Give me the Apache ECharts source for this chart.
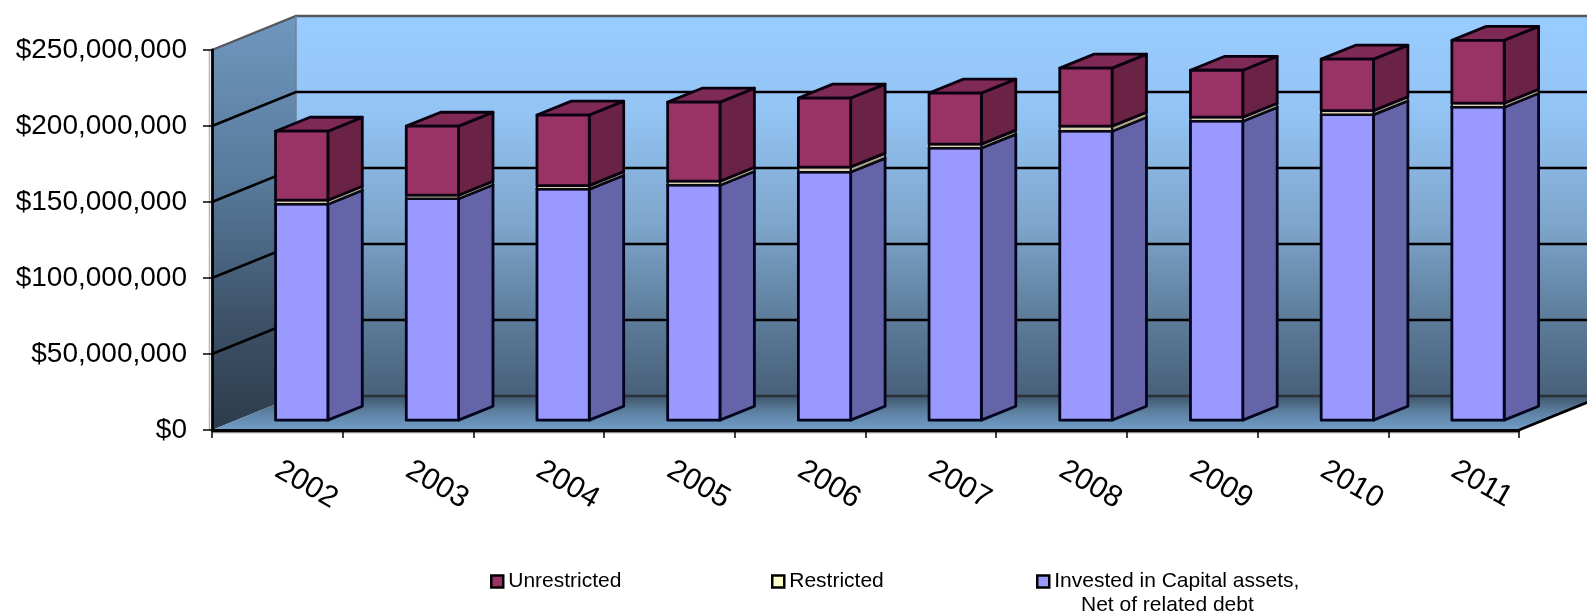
<!DOCTYPE html>
<html>
<head>
<meta charset="utf-8">
<style>html,body{margin:0;padding:0;background:#fff}#c{width:1587px;height:613px}</style>
<script src="https://cdn.jsdelivr.net/npm/echarts@6/dist/echarts.min.js"></script>
</head>
<body>
<div id="c"></div>
<script>
const years = ['2002','2003','2004','2005','2006','2007','2008','2009','2010','2011'];
const invested = [142100000,145700000,152000000,154600000,163200000,179000000,190100000,196700000,201000000,205900000];
const restricted = [2600000,2300000,2300000,2600000,3300000,2600000,3300000,2600000,2600000,2600000];
const unrestricted = [45400000,45400000,46400000,52000000,45400000,33600000,38200000,30900000,33900000,41400000];
const yTicks = [0,50000000,100000000,150000000,200000000,250000000];
const investedName = 'Invested in Capital assets,';
const investedName2 = 'Net of related debt';

const FONT = '"Liberation Sans", Arial, sans-serif';
const WALL_DX = 84, WALL_DY = -34;      // oblique projection of the chart's depth
const BAR_WIDTH = 0.4, DEPTH_START = 0.29, DEPTH_SIZE = 0.41;

const chart = echarts.init(document.getElementById('c'), null, {renderer:'canvas'});
const grad = (stops) => new echarts.graphic.LinearGradient(0,0,0,1,stops.map((c,i)=>({offset:c[0],color:c[1]})));

function wallsItem(params, api) {
  const band = api.size([1,0])[0];
  const x0 = api.coord([0,0])[0] - band/2;
  const x1 = api.coord([years.length-1,0])[0] + band/2;
  const yb = api.coord([0,0])[1];
  const yt = api.coord([0,yTicks[yTicks.length-1]])[1];
  const dx = WALL_DX, dy = WALL_DY;
  const kids = [];
  kids.push({type:'polygon',shape:{points:[[x0+dx,yt+dy],[x1+dx,yt+dy],[x1+dx,yb+dy],[x0+dx,yb+dy]]},
    style:{fill:grad([[0,'#99ccff'],[0.25,'#93c4f4'],[0.55,'#7ea5cb'],[0.8,'#5c7c99'],[1,'#48607a']])}});
  kids.push({type:'polygon',shape:{points:[[x0,yt],[x0+dx,yt+dy],[x0+dx,yb+dy],[x0,yb]]},
    style:{fill:grad([[0,'#7097bf'],[0.4,'#587a9b'],[0.75,'#3c5066'],[1,'#2d3c4c'] ])}});
  kids.push({type:'polygon',shape:{points:[[x0,yb],[x1,yb],[x1+dx,yb+dy],[x0+dx,yb+dy]]},
    style:{fill:grad([[0,'#40566b'],[0.45,'#5c7f9f'],[1,'#719ecb']])}});
  // wall edges
  kids.push({type:'polyline',shape:{points:[[x0,yt],[x0+dx,yt+dy],[x1+dx,yt+dy]]},style:{fill:'none',stroke:'#55595f',lineWidth:2.4}});
  kids.push({type:'line',shape:{x1:x0+dx,y1:yt+dy,x2:x0+dx,y2:yb+dy},style:{stroke:'#6f8296',lineWidth:1.5}});
  yTicks.forEach(function(v){
    if (v === 0 || v === yTicks[yTicks.length-1]) return;
    const y = api.coord([0,v])[1];
    kids.push({type:'polyline',shape:{points:[[x0,y],[x0+dx,y+dy],[x1+dx,y+dy]]},style:{fill:'none',stroke:'#000',lineWidth:2.6}});
  });
  kids.push({type:'line',shape:{x1:x0+dx,y1:yb+dy,x2:x1+dx,y2:yb+dy},style:{stroke:'#2c3238',lineWidth:2.4}});
  kids.push({type:'line',shape:{x1:x1,y1:yb,x2:x1+dx,y2:yb+dy},style:{stroke:'#000',lineWidth:2.6}});
  // soft shadow along the axes
  kids.push({type:'line',shape:{x1:x0,y1:yb+2.5,x2:x1,y2:yb+2.5},style:{stroke:'#8a8a8a',lineWidth:1.5}});
  kids.push({type:'line',shape:{x1:x0-2.5,y1:yt,x2:x0-2.5,y2:yb},style:{stroke:'#b5b5b5',lineWidth:1.5}});
  return {type:'group',children:kids};
}

function barRenderer(front, side, top, stroke, lw) {
  return function(params, api) {
    const i = api.value(0);
    const low = api.coord([i,api.value(1)]);
    const high = api.coord([i,api.value(2)]);
    const band = api.size([1,0])[0];
    const w = band*BAR_WIDTH;
    const sx = WALL_DX*DEPTH_START, sy = WALL_DY*DEPTH_START;
    const ddx = WALL_DX*DEPTH_SIZE, ddy = WALL_DY*DEPTH_SIZE;
    const l = low[0]-w/2+sx, r = l+w, b = low[1]+sy, t = high[1]+sy;
    const st = {stroke:stroke,lineWidth:lw,lineJoin:'round'};
    return {type:'group',children:[
      {type:'polygon',shape:{points:[[r,b],[r+ddx,b+ddy],[r+ddx,t+ddy],[r,t]]},style:Object.assign({fill:side},st)},
      {type:'polygon',shape:{points:[[l,t],[r,t],[r+ddx,t+ddy],[l+ddx,t+ddy]]},style:Object.assign({fill:top},st)},
      {type:'polygon',shape:{points:[[l,b],[r,b],[r,t],[l,t]]},style:Object.assign({fill:front},st)}
    ]};
  };
}

const cum1 = invested.map((v,i)=>[i,0,v]);
const cum2 = restricted.map((v,i)=>[i,invested[i],invested[i]+v]);
const cum3 = unrestricted.map((v,i)=>[i,invested[i]+restricted[i],invested[i]+restricted[i]+v]);

const legendBase = {orient:'horizontal',icon:'rect',itemWidth:12,itemHeight:12,padding:0,
  itemStyle:{borderColor:'#000',borderWidth:2.5},
  textStyle:{fontFamily:FONT,fontSize:21,color:'#000'},selectedMode:false,top:571};

chart.setOption({
  animation:false,
  backgroundColor:'#fff',
  grid:{left:212,top:50,width:1307,height:380,containLabel:false},
  xAxis:{type:'category',data:years,boundaryGap:true,z:10,
    axisLine:{show:true,lineStyle:{color:'#000',width:2.8}},
    axisTick:{show:true,alignWithLabel:false,length:8,lineStyle:{color:'#000',width:1.5}},
    axisLabel:{rotate:-30,interval:0,margin:38,fontFamily:FONT,fontSize:30,color:'#000'},
    splitLine:{show:false}},
  yAxis:{type:'value',min:0,max:250000000,interval:50000000,z:10,
    axisLine:{show:true,lineStyle:{color:'#000',width:2.8}},
    axisTick:{show:true,length:9,lineStyle:{color:'#000',width:1.5}},
    axisLabel:{margin:25,fontFamily:FONT,fontSize:28,color:'#000',padding:[4,0,0,0],
      formatter:function(v){return '$'+String(v).replace(/\B(?=(\d{3})+$)/g,',');}},
    splitLine:{show:false}},
  legend:[
    Object.assign({},legendBase,{data:['Unrestricted'],left:490}),
    Object.assign({},legendBase,{data:[{name:'Restricted',itemStyle:{color:'#ffffcc'}}],left:771}),
    Object.assign({},legendBase,{data:[investedName],left:1036})
  ],
  graphic:[{type:'text',left:1081,top:595,z:10,style:{text:investedName2,fontFamily:FONT,fontSize:21,fill:'#000'}}],
  series:[
    {type:'custom',name:'walls',silent:true,data:[[0,0]],renderItem:wallsItem,encode:{x:0,y:1},z:1},
    {type:'custom',name:investedName,silent:true,data:cum1,encode:{x:0,y:[1,2]},z:2,itemStyle:{color:'#9999ff'},
      renderItem:barRenderer('#9999ff','#6564a8','#6564a8','#04041e',2.8)},
    {type:'custom',name:'Restricted',silent:true,data:cum2,encode:{x:0,y:[1,2]},z:3,itemStyle:{color:'#ffffcc'},
      renderItem:barRenderer('#d8d0ae','#a8a488','#a8a488','#0a0a14',2.2)},
    {type:'custom',name:'Unrestricted',silent:true,data:cum3,encode:{x:0,y:[1,2]},z:4,itemStyle:{color:'#993366'},
      renderItem:barRenderer('#993366','#6a2245','#7f2a55','#0a0010',2.8)}
  ]
});
</script>
</body>
</html>
